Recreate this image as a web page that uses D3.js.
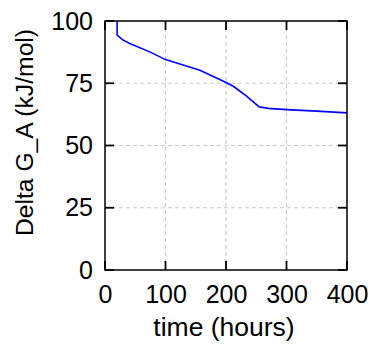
<!DOCTYPE html>
<html><head><meta charset="utf-8">
<script src="https://cdn.jsdelivr.net/npm/d3@7"></script>
<style>html,body{margin:0;padding:0;background:#fff;}svg{display:block;font-family:"Liberation Sans",Arial,sans-serif;}</style>
</head><body>
<script>
const timeHours = [20, 20, 30, 41, 74, 100, 157, 200, 212, 234, 245, 255, 270, 300, 350, 400];
const deltaGA   = [100, 94.3, 92.3, 91, 87.6, 84.5, 80.2, 75.3, 73.8, 69.8, 67.5, 65.5, 64.9, 64.4, 63.8, 63.1];
const xTicks = [0, 100, 200, 300, 400];
const yTicks = [0, 25, 50, 75, 100];
const xLabel = "time (hours)";
const yLabel = "Delta G_A (kJ/mol)";

const W = 373, H = 345;
const m = {left: 105, right: 26, top: 21, bottom: 75};
const FONT = "Liberation Sans, Arial, sans-serif";
const svg = d3.select("body").append("svg").attr("width", W).attr("height", H);
const x = d3.scaleLinear().domain([0, 400]).range([m.left, W - m.right]);
const y = d3.scaleLinear().domain([0, 100]).range([H - m.bottom, m.top]);

// grid
svg.append("g").selectAll("line").data(xTicks.slice(1, -1)).join("line")
  .attr("x1", d => x(d)).attr("x2", d => x(d)).attr("y1", y(0)).attr("y2", y(100))
  .attr("stroke", "#cccccc").attr("stroke-width", 1.2).attr("stroke-dasharray", "4,3");
svg.append("g").selectAll("line").data(yTicks.slice(1, -1)).join("line")
  .attr("y1", d => y(d)).attr("y2", d => y(d)).attr("x1", x(0)).attr("x2", x(400))
  .attr("stroke", "#cccccc").attr("stroke-width", 1.2).attr("stroke-dasharray", "4,3");

// line
svg.append("clipPath").attr("id", "clip").append("rect")
  .attr("x", x(0)).attr("y", y(100)).attr("width", x(400) - x(0)).attr("height", y(0) - y(100));
const line = d3.line().x((d, i) => x(timeHours[i])).y(d => y(d));
svg.append("path").datum(deltaGA).attr("d", line).attr("fill", "none")
  .attr("stroke", "#0000ff").attr("stroke-width", 1.6).attr("clip-path", "url(#clip)");

// axes: labels via d3 axes, tick marks drawn inward on all four sides
const axB = svg.append("g").attr("transform", `translate(0,${y(0)})`)
  .call(d3.axisBottom(x).tickValues(xTicks).tickSize(0).tickPadding(15));
const axL = svg.append("g").attr("transform", `translate(${x(0)},0)`)
  .call(d3.axisLeft(y).tickValues(yTicks).tickSize(0).tickPadding(12));
[axB, axL].forEach(a => {
  a.select(".domain").remove();
  a.selectAll(".tick line").remove();
  a.selectAll("text").attr("font-size", 25).attr("fill", "#000").attr("font-family", FONT);
});
const tl = 9;
const tk = svg.append("g");
function ticks(data, f) {
  tk.append("g").selectAll("line").data(data).join("line")
    .each(function(d) { const c = f(d); d3.select(this).attr("x1", c[0]).attr("y1", c[1]).attr("x2", c[2]).attr("y2", c[3]); })
    .attr("stroke", "#000").attr("stroke-width", 1.8);
}
ticks(xTicks, d => [x(d), y(0), x(d), y(0) - tl]);
ticks(xTicks, d => [x(d), y(100), x(d), y(100) + tl]);
ticks(yTicks, d => [x(0), y(d), x(0) + tl, y(d)]);
ticks(yTicks, d => [x(400), y(d), x(400) - tl, y(d)]);

svg.append("rect").attr("x", x(0)).attr("y", y(100)).attr("width", x(400) - x(0)).attr("height", y(0) - y(100))
  .attr("fill", "none").attr("stroke", "#000").attr("stroke-width", 1.5);

svg.append("text").attr("x", 224).attr("y", 336).attr("text-anchor", "middle")
  .attr("font-size", 26.5).attr("font-family", FONT).text(xLabel);
svg.append("text").attr("transform", `translate(33,132.5) rotate(-90)`).attr("text-anchor", "middle")
  .attr("font-size", 24.7).attr("font-family", FONT).text(yLabel);
</script>
</body></html>
